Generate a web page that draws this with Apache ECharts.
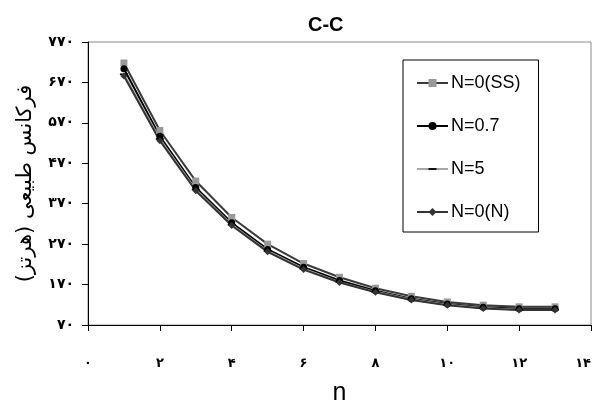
<!DOCTYPE html>
<html>
<head>
<meta charset="utf-8">
<style>
  html, body { margin: 0; padding: 0; background: #fff; }
  #chart { width: 598px; height: 407px; }
</style>
<script src="https://cdn.jsdelivr.net/npm/echarts@6/dist/echarts.min.js"></script>
</head>
<body>
<div id="chart"></div>
<script>
// Mode number n (x axis)
const modeN = [1, 2, 3, 4, 5, 6, 7, 8, 9, 10, 11, 12, 13];

// Natural frequency (Hz) for each case
const freqSS  = [718, 551, 426, 336, 270, 222, 188, 161, 141, 127, 119, 115, 115];
const freqN07 = [704, 537, 410, 323, 257, 213, 180, 155, 135, 122, 114, 110, 110];
const freqN5  = [690, 530, 405, 318, 253, 209, 176, 152, 133, 120, 112, 108, 108];
const freqN0N = [686, 526, 402, 316, 251, 207, 175, 151, 132, 119, 111, 107, 107];

// Axis tick values
const yTicks = [70, 170, 270, 370, 470, 570, 670, 770];
const xTicks = [0, 2, 4, 6, 8, 10, 12, 14];

const seriesNames = ['N=0(SS)', 'N=0.7', 'N=5', 'N=0(N)'];

// Western digits -> Persian digits for tick labels
const persianDigits = ['۰', '۱', '۲', '۳', '۴', '۵', '۶', '۷', '۸', '۹'];
function toPersian(v) {
  return String(v).replace(/[0-9]/g, d => persianDigits[+d]);
}

function pairs(values) {
  return modeN.map((n, i) => [n, values[i]]);
}

// Flat dash marker; the extra move-to points keep a square bounding box
const dashSymbol = 'path://M0,0M0,8M0,3.1H8V4.9H0Z';

const chart = echarts.init(document.getElementById('chart'), null, { renderer: 'canvas' });

const labelFont = { fontFamily: 'DejaVu Sans', fontWeight: 'bold', fontSize: 14, color: '#000' };

chart.setOption({
  animation: false,
  backgroundColor: '#fff',
  title: {
    text: 'C-C',
    left: 303,
    top: 10,
    textStyle: { fontFamily: 'Liberation Sans', fontWeight: 'bold', fontSize: 20, color: '#000' }
  },
  grid: {
    left: 88, right: 7, top: 42, bottom: 82,
    outerBoundsMode: 'none',
    show: true, borderColor: '#8c8c8c', borderWidth: 1, backgroundColor: '#fff'
  },
  legend: {
    orient: 'vertical',
    left: 403, top: 60,
    padding: [14, 18, 11, 13],
    itemGap: 25,
    itemWidth: 31,
    itemHeight: 10,
    backgroundColor: '#fff',
    borderColor: '#000',
    borderWidth: 1,
    borderRadius: 0,
    textStyle: { fontFamily: 'Liberation Sans', fontSize: 18, color: '#000', padding: [0, 0, 0, -2] },
    data: seriesNames
  },
  xAxis: {
    type: 'value',
    min: 0, max: 14, interval: 2,
    name: 'n',
    nameLocation: 'middle',
    nameGap: 56,
    nameTextStyle: { fontFamily: 'Liberation Sans', fontSize: 25, color: '#000' },
    axisLine: { show: true, lineStyle: { color: '#000', width: 1 } },
    axisTick: { show: true, length: 6, lineStyle: { color: '#000' }, customValues: xTicks },
    axisLabel: Object.assign({
      margin: 32, customValues: xTicks, alignMaxLabel: 'right',
      formatter: v => toPersian(v)
    }, labelFont, { fontSize: 13 }),
    splitLine: { show: false }
  },
  yAxis: {
    type: 'value',
    min: 70, max: 770,
    name: 'فرکانس طبیعی (هرتز)',
    nameLocation: 'middle',
    nameRotate: 90,
    nameGap: 52,
    nameTextStyle: { fontFamily: 'DejaVu Sans', fontSize: 21, color: '#000' },
    axisLine: { show: true, lineStyle: { color: '#000', width: 1 } },
    axisTick: { show: true, length: 6, lineStyle: { color: '#000' }, customValues: yTicks },
    axisLabel: Object.assign({ margin: 14, customValues: yTicks, formatter: v => toPersian(v) }, labelFont),
    splitLine: { show: false }
  },
  series: [
    {
      name: seriesNames[0], type: 'line', data: pairs(freqSS),
      symbol: 'rect', symbolSize: 7,
      lineStyle: { color: '#3a3a3a', width: 2 },
      itemStyle: { color: '#999999' }
    },
    {
      name: seriesNames[1], type: 'line', data: pairs(freqN07),
      symbol: 'circle', symbolSize: 7,
      lineStyle: { color: '#000000', width: 2 },
      itemStyle: { color: '#000000' }
    },
    {
      name: seriesNames[2], type: 'line', data: pairs(freqN5),
      symbol: dashSymbol, symbolSize: 8,
      lineStyle: { color: '#a6a6a6', width: 2 },
      itemStyle: { color: '#000000' }
    },
    {
      name: seriesNames[3], type: 'line', data: pairs(freqN0N),
      symbol: 'diamond', symbolSize: 7,
      lineStyle: { color: '#333333', width: 2 },
      itemStyle: { color: '#333333' }
    }
  ]
});
</script>
</body>
</html>
